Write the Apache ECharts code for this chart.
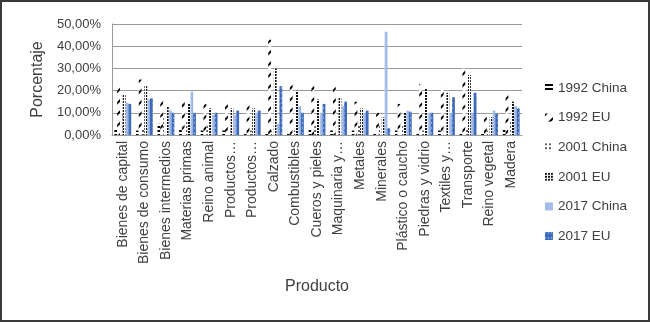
<!DOCTYPE html>
<html>
<head>
<meta charset="utf-8">
<script src="https://cdn.jsdelivr.net/npm/echarts@6/dist/echarts.min.js"></script>
<style>
html,body{margin:0;padding:0;background:#fff;}
#c{width:650px;height:322px;box-sizing:border-box;border:2px solid #3a3a3a;}
</style>
</head>
<body>
<div id="c"></div>
<script>
const categories = ["Bienes de capital","Bienes de consumo","Bienes intermedios","Materias primas","Reino animal","Productos…","Productos…","Calzado","Combustibles","Cueros y pieles","Maquinaria y…","Metales","Minerales","Plástico o caucho","Piedras y vidrio","Textiles y…","Transporte","Reino vegetal","Madera"];
const seriesNames = ["1992 China","1992 EU","2001 China","2001 EU","2017 China","2017 EU"];
const china1992 = [3,2,5,3,2,2,1,1,1,3,2,2,1,2,1,2,1,1,3];
const eu1992    = [24,25,16,16,14,15,15,43,23,24,24,15,10,14,23,22,30,9,18];
const china2001 = [10,3,8,6,4,3,2,2,2,4,6,5,5,5,2,5,3,2,6];
const eu2001    = [18,22,13,14,12,12,12,30,20,16,17,12,8,10,21,19,27,8,15];
const china2017 = [14.5,16,11,19.5,9,9,10,5,13,10,13,10,46.5,11,10,10,10,11,13];
const eu2017    = [14,16.5,10,10,10,11,11,22,10,14,15,11,3,10.5,10,17,19,9.5,12];
const yTicks = [0,10,20,30,40,50];

const FONT = 'Liberation Sans';
const TXT = '#404040';
const values = [china1992, eu1992, china2001, eu2001, china2017, eu2017];
const styles = [
  {color:'#ffffff', decal:{symbol:'rect', color:'#000', dashArrayX:[1,0], dashArrayY:[2,2], rotation:0}},
  {color:'#ffffff', decal:{symbol:'rect', color:'#000', dashArrayX:[1,0], dashArrayY:[2,6], rotation:-Math.PI/4}},
  {color:'#ffffff', decal:{symbol:'circle', symbolSize:1, color:'#222', dashArrayX:[2,2], dashArrayY:[2,2]}},
  {color:'#ffffff', decal:{symbol:'rect', symbolSize:1, color:'#111', dashArrayX:[2,1], dashArrayY:[2,1]}},
  {color:new echarts.graphic.LinearGradient(0,0,1,0,[{offset:0,color:'#b9cdef'},{offset:0.5,color:'#a3bce8'},{offset:1,color:'#8eaadf'}])},
  {color:'#3f6cba', decal:{symbol:'rect', symbolSize:1, color:'#86a6dc', dashArrayX:[1,2], dashArrayY:[2,3]}}
];

const chart = echarts.init(document.getElementById('c'), null, {renderer:'canvas'});
chart.setOption({
  animation:false,
  backgroundColor:'#fff',
  textStyle:{fontFamily:FONT},
  grid:{left:110, right:126, top:22, bottom:185},
  legend:{
    orient:'vertical', right:16, top:74,
    itemWidth:8, itemHeight:8, itemGap:15.6,
    icon:'rect',
    textStyle:{fontFamily:FONT, fontSize:13.5, color:TXT},
    data: seriesNames.map((n,i)=>({name:n, itemStyle:Object.assign({}, styles[i], {color: i===4 ? '#a3bce8' : (i<4 ? '#fff' : '#3f6cba')})}))
  },
  xAxis:{
    type:'category', data:categories,
    name:'Producto', nameLocation:'middle', nameGap:144,
    nameTextStyle:{fontFamily:FONT, fontSize:16, color:TXT},
    axisLine:{show:true, lineStyle:{color:'#9a9a9a', width:1}},
    axisTick:{show:false},
    axisLabel:{rotate:90, interval:0, fontFamily:FONT, fontSize:14, color:TXT, margin:6}
  },
  yAxis:{
    type:'value', min:0, max:50, interval:10,
    name:'Porcentaje', nameLocation:'middle', nameGap:66,
    nameTextStyle:{fontFamily:FONT, fontSize:16, color:TXT},
    axisLine:{show:true, lineStyle:{color:'#9a9a9a'}},
    axisTick:{show:false},
    splitLine:{lineStyle:{color:'#9a9a9a', width:1}},
    axisLabel:{fontFamily:FONT, fontSize:13, color:TXT, margin:11,
      formatter:v=>v.toFixed(2).replace('.',',')+'%'}
  },
  series: seriesNames.map((n,i)=>({
    name:n, type:'bar', data:values[i],
    barGap:'0%', barCategoryGap:'22%',
    itemStyle:styles[i]
  }))
});
</script>
</body>
</html>
